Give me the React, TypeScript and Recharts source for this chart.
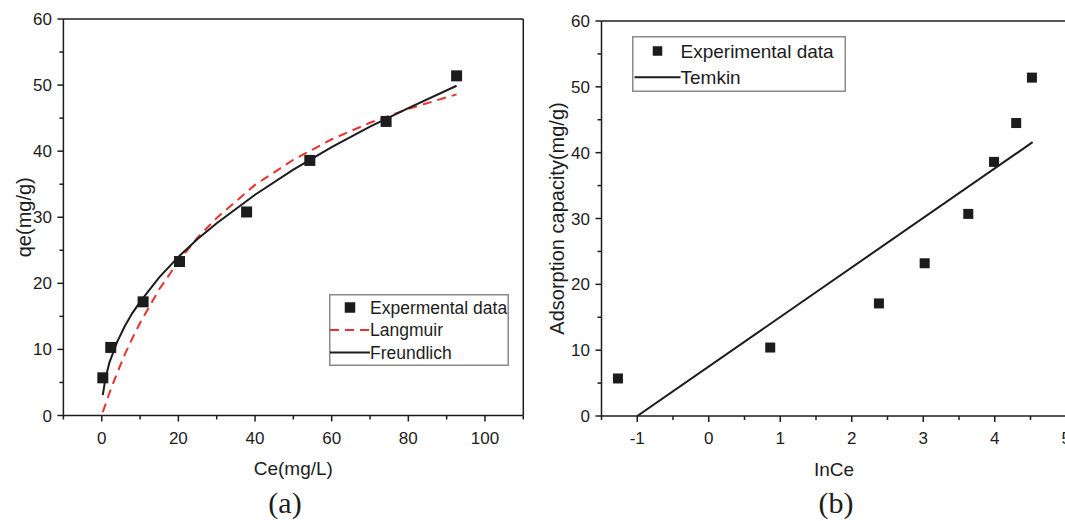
import { ScatterChart, Scatter, XAxis, YAxis, ReferenceLine, Label, Legend } from "recharts";

const FONT = '"Liberation Sans", Arial, sans-serif';
const SERIF = '"Liberation Serif", "Times New Roman", serif';
const INK = "#1c1c1c";
const RED = "#e8322e";

// (a) equilibrium data + fitted isotherms
const ceValues = [0.28, 2.35, 10.8, 20.3, 37.8, 54.3, 74.2, 92.6];
const qeValues = [5.7, 10.3, 17.2, 23.3, 30.8, 38.6, 44.5, 51.4];
const fitCe = [0.28, 1, 2, 4, 6, 8, 10, 15, 20, 25, 30, 40, 50, 60, 70, 80, 92.6];
const langmuirQe = [0.5, 1.7, 3.4, 6.4, 9.2, 11.7, 14.0, 19.1, 23.3, 26.9, 29.9, 34.9, 38.7, 41.8, 44.3, 46.4, 48.6];
const freundlichQe = [3.1, 5.7, 8.0, 11.1, 13.5, 15.5, 17.2, 20.9, 24.0, 26.7, 29.1, 33.4, 37.2, 40.6, 43.7, 46.5, 49.9];

// (b) Temkin plot
const lnCeValues = [-1.27, 0.86, 2.38, 3.02, 3.63, 3.99, 4.3, 4.52];
const qeValuesB = [5.7, 10.4, 17.1, 23.2, 30.7, 38.6, 44.5, 51.4];
const temkinLnCe = [-1.0, 4.53];
const temkinQe = [0, 41.6];

const xTicksA = [-10, 0, 10, 20, 30, 40, 50, 60, 70, 80, 90, 100, 110];
const xTicksB = [-1.5, -1, -0.5, 0, 0.5, 1, 1.5, 2, 2.5, 3, 3.5, 4, 4.5, 5, 5.5];
const yTicks = [0, 5, 10, 15, 20, 25, 30, 35, 40, 45, 50, 55, 60];

const zip = (xs: number[], ys: number[]) => xs.map((x, i) => ({ x, y: ys[i] }));

const square = (s: number) => (p: any) => (
  <rect x={p.cx - s / 2} y={p.cy - s / 2} width={s} height={s} fill={INK} />
);
const noMark = () => <g />;

const xTick = (isMajor: (v: number) => boolean) => (p: any) => {
  const v = p.payload.value;
  const major = isMajor(v);
  return (
    <g>
      <line x1={p.x} x2={p.x} y1={p.y} y2={p.y + (major ? 6 : 4)} stroke={INK} strokeWidth={1.5} />
      {major && (
        <text x={p.x} y={p.y + 28} textAnchor="middle" fontSize={17} fontFamily={FONT} fill={INK}>
          {v}
        </text>
      )}
    </g>
  );
};

const yTick = (p: any) => {
  const v = p.payload.value;
  const major = v % 10 === 0;
  return (
    <g>
      <line x1={p.x - (major ? 6 : 4)} x2={p.x} y1={p.y} y2={p.y} stroke={INK} strokeWidth={1.5} />
      {major && (
        <text x={p.x - 11.5} y={p.y + 6} textAnchor="end" fontSize={17} fontFamily={FONT} fill={INK}>
          {v}
        </text>
      )}
    </g>
  );
};

const xTitle = (text: string, dx: number | null) => (p: any) => {
  const vb = p.viewBox;
  const cx = dx === null ? vb.x + vb.width / 2 : vb.x + dx;
  return (
    <text x={cx} y={vb.y + 59.5} textAnchor="middle" fontSize={19} fontFamily={FONT} fill={INK}>
      {text}
    </text>
  );
};

const yTitle = (text: string, dx: number) => (p: any) => {
  const vb = p.viewBox;
  const cy = vb.y + vb.height / 2;
  return (
    <text
      transform={`translate(${vb.x + vb.width - dx},${cy}) rotate(-90)`}
      textAnchor="middle"
      dominantBaseline="central"
      fontSize={20}
      fontFamily={FONT}
      fill={INK}
    >
      {text}
    </text>
  );
};

type Entry = { label: string; kind: "square" | "solid" | "dashed" };

const legendBox = (entries: Entry[], w: number, h: number, rowY: number[], symX: [number, number], textX: number, fontSize: number, sq: number) => () => (
  <svg width={w} height={h} style={{ display: "block" }}>
    <rect x={0.75} y={0.75} width={w - 1.5} height={h - 1.5} fill="#fff" stroke="#8a8a8a" strokeWidth={1.5} />
    {entries.map((e, i) => (
      <g key={e.label}>
        {e.kind === "square" && (
          <rect x={(symX[0] + symX[1]) / 2 - sq / 2} y={rowY[i] - sq / 2} width={sq} height={sq} fill={INK} />
        )}
        {e.kind !== "square" && (
          <line
            x1={symX[0]}
            x2={symX[1]}
            y1={rowY[i]}
            y2={rowY[i]}
            stroke={e.kind === "dashed" ? RED : INK}
            strokeWidth={2}
            strokeDasharray={e.kind === "dashed" ? "9 6" : undefined}
          />
        )}
        <text x={textX} y={rowY[i] + fontSize * 0.36} fontSize={fontSize} fontFamily={FONT} fill={INK}>
          {e.label}
        </text>
      </g>
    ))}
  </svg>
);

const legendA: Entry[] = [
  { label: "Expermental data", kind: "square" },
  { label: "Langmuir", kind: "dashed" },
  { label: "Freundlich", kind: "solid" },
];
const legendB: Entry[] = [
  { label: "Experimental data", kind: "square" },
  { label: "Temkin", kind: "solid" },
];

function ChartA() {
  return (
    <ScatterChart width={540} height={521} margin={{ top: 19, right: 16.7, bottom: 104.5, left: 62.4 }}>
      <XAxis
        type="number"
        dataKey="x"
        domain={[-10, 110]}
        ticks={xTicksA}
        interval={0}
        allowDataOverflow
        height={1}
        tickSize={0}
        tickMargin={0}
        tickLine={false}
        tick={xTick((v) => v % 20 === 0 && v >= 0 && v <= 100)}
        axisLine={{ stroke: INK, strokeWidth: 1.5 }}
      >
        <Label content={xTitle("Ce(mg/L)", null)} />
      </XAxis>
      <YAxis
        type="number"
        dataKey="y"
        domain={[0, 60]}
        ticks={yTicks}
        interval={0}
        allowDataOverflow
        width={1}
        tickSize={0}
        tickMargin={0}
        tickLine={false}
        tick={yTick}
        axisLine={{ stroke: INK, strokeWidth: 1.5 }}
      >
        <Label content={yTitle("qe(mg/g)", 39.5)} />
      </YAxis>
      <ReferenceLine y={60} stroke={INK} strokeWidth={1.5} />
      <ReferenceLine x={110} stroke={INK} strokeWidth={1.5} />
      <Scatter
        name="Langmuir"
        data={zip(fitCe, langmuirQe)}
        line={{ stroke: RED, strokeWidth: 2, strokeDasharray: "9 6" }}
        lineType="joint"
        shape={noMark}
        isAnimationActive={false}
      />
      <Scatter
        name="Freundlich"
        data={zip(fitCe, freundlichQe)}
        line={{ stroke: INK, strokeWidth: 2 }}
        lineType="joint"
        shape={noMark}
        isAnimationActive={false}
      />
      <Scatter name="Expermental data" data={zip(ceValues, qeValues)} shape={square(11)} isAnimationActive={false} />
      <Legend
        layout="vertical"
        align="center"
        verticalAlign="middle"
        wrapperStyle={{ left: 329, top: 294, width: 180, height: 72 }}
        content={legendBox(legendA, 180, 72, [13.5, 36, 58.5], [1, 41], 41, 17.5, 10.5)}
      />
    </ScatterChart>
  );
}

function ChartB() {
  return (
    <ScatterChart width={590} height={521} margin={{ top: 21, right: 18, bottom: 104, left: 70.5 }}>
      <XAxis
        type="number"
        dataKey="x"
        domain={[-1.5, 5.5]}
        ticks={xTicksB}
        interval={0}
        allowDataOverflow
        height={1}
        tickSize={0}
        tickMargin={0}
        tickLine={false}
        tick={xTick((v) => Number.isInteger(v))}
        axisLine={{ stroke: INK, strokeWidth: 1.5 }}
      >
        <Label content={xTitle("InCe", 232.5)} />
      </XAxis>
      <YAxis
        type="number"
        dataKey="y"
        domain={[0, 60]}
        ticks={yTicks}
        interval={0}
        allowDataOverflow
        width={1}
        tickSize={0}
        tickMargin={0}
        tickLine={false}
        tick={yTick}
        axisLine={{ stroke: INK, strokeWidth: 1.5 }}
      >
        <Label content={yTitle("Adsorption capacity(mg/g)", 44.5)} />
      </YAxis>
      <ReferenceLine y={60} stroke={INK} strokeWidth={1.5} />
      <ReferenceLine x={5.5} stroke={INK} strokeWidth={1.5} />
      <Scatter
        name="Temkin"
        data={zip(temkinLnCe, temkinQe)}
        line={{ stroke: INK, strokeWidth: 2 }}
        lineType="joint"
        shape={noMark}
        isAnimationActive={false}
      />
      <Scatter name="Experimental data" data={zip(lnCeValues, qeValuesB)} shape={square(10)} isAnimationActive={false} />
      <Legend
        layout="vertical"
        align="center"
        verticalAlign="middle"
        wrapperStyle={{ left: 101.7, top: 36, width: 214, height: 56 }}
        content={legendBox(legendB, 214, 56, [15, 41.3], [2.5, 48.5], 48.5, 19, 9.5)}
      />
    </ScatterChart>
  );
}

export default function App() {
  return (
    <div
      style={{
        position: "fixed",
        left: 0,
        top: 0,
        width: 1065,
        height: 521,
        overflow: "hidden",
        background: "#fff",
      }}
    >
      <div style={{ position: "absolute", left: 0, top: 0 }}>
        <ChartA />
      </div>
      <div style={{ position: "absolute", left: 530, top: 0 }}>
        <ChartB />
      </div>
      <svg width={1065} height={521} style={{ position: "absolute", left: 0, top: 0, pointerEvents: "none" }}>
        <text x={285} y={513} textAnchor="middle" fontSize={30} fontFamily={SERIF} fill={INK}>
          (a)
        </text>
        <text x={836} y={513} textAnchor="middle" fontSize={30} fontFamily={SERIF} fill={INK}>
          (b)
        </text>
      </svg>
    </div>
  );
}
